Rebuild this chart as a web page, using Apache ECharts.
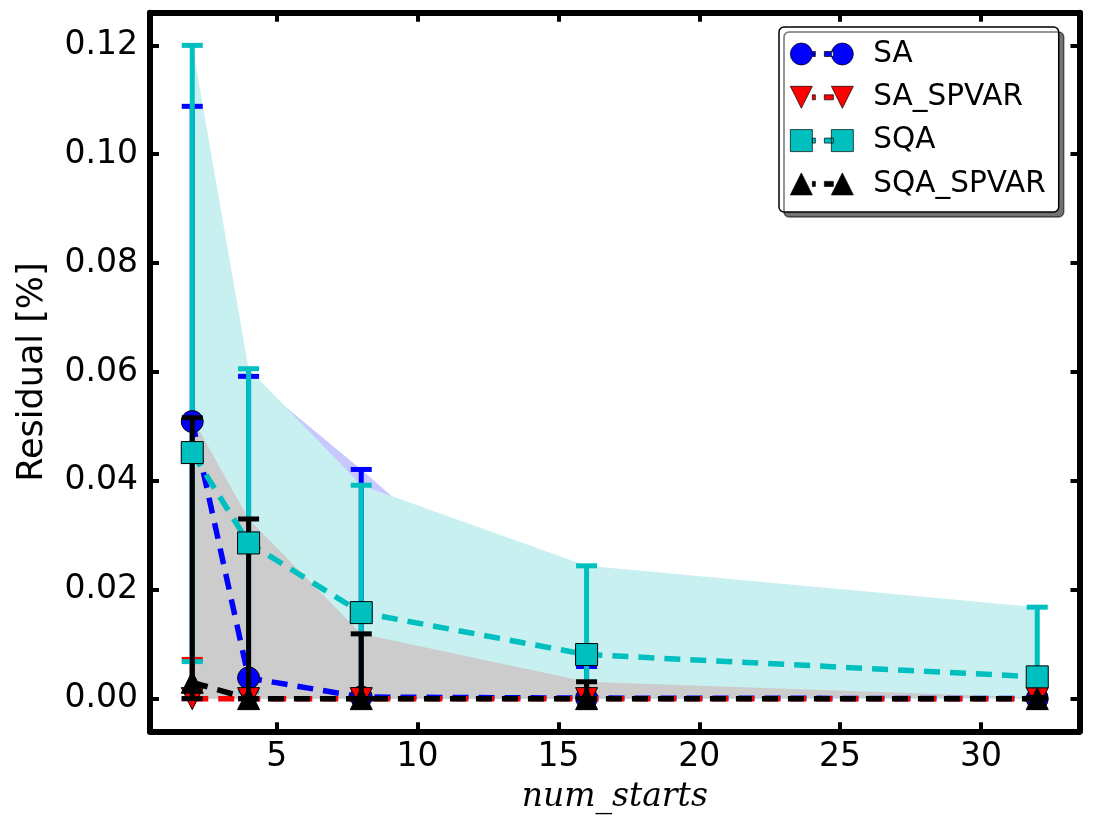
<!DOCTYPE html>
<html lang="en">
<head>
<meta charset="UTF-8">
<title>residual</title>
<script src="https://cdn.jsdelivr.net/npm/echarts@6.0.0/dist/echarts.min.js"></script>
</head>
<body style="margin:0;background:#fff">
<div id="main" style="width:1094px;height:836px;"></div>
<script>
// x values
var numStarts = [2, 4, 8, 16, 32];

// means
var saMean      = [0.0509, 0.0038, 0.0003, 0.0001, 0.0000];
var saSpvarMean = [0.0000, 0.0000, 0.0000, 0.0000, 0.0000];
var sqaMean     = [0.0452, 0.0286, 0.0158, 0.0081, 0.0040];
var sqaSpvarMean = [0.0030, 0.0000, 0.0000, 0.0000, 0.0000];

// error bar ends
var saLow       = [0.0000, 0.0000, 0.0000, 0.0000, 0.0000];
var saHigh      = [0.1088, 0.0592, 0.0421, 0.0059, 0.0005];
var saSpvarLow  = [0.0000, 0.0000, 0.0000, 0.0000, 0.0000];
var saSpvarHigh = [0.0072, 0.0000, 0.0000, 0.0000, 0.0000];
var sqaLow      = [0.0068, 0.0014, 0.0000, 0.0000, 0.0000];
var sqaHigh     = [0.1200, 0.0606, 0.0392, 0.0244, 0.0168];
var sqaSpvarLow  = [0.0000, 0.0000, 0.0000, 0.0000, 0.0000];
var sqaSpvarHigh = [0.0516, 0.0330, 0.0119, 0.0031, 0.0002];

// ticks
var xTicks = [5, 10, 15, 20, 25, 30];
var yTicks = [0, 0.02, 0.04, 0.06, 0.08, 0.10, 0.12];

function pairs(ys) {
    return numStarts.map(function (x, i) { return [x, ys[i]]; });
}

function fillArea(name, color, highs, z) {
    return {
        name: name, type: 'line', data: pairs(highs), z: z, silent: true,
        symbol: 'none',
        lineStyle: {width: 0}, areaStyle: {color: color, opacity: 1}
    };
}

function errorBars(name, color, lows, highs, z) {
    var data = numStarts.map(function (x, i) { return [x, lows[i], highs[i]]; });
    return {
        name: name, type: 'custom', data: data, z: z, silent: true,
        encode: {x: 0, y: [1, 2]},
        renderItem: function (params, api) {
            var x = api.value(0);
            var lo = api.coord([x, api.value(1)]);
            var hi = api.coord([x, api.value(2)]);
            var half = 10.5;
            var st = {stroke: color, lineWidth: 5};
            return {type: 'group', children: [
                {type: 'line', shape: {x1: lo[0], y1: lo[1], x2: hi[0], y2: hi[1]}, style: st},
                {type: 'line', shape: {x1: hi[0] - half, y1: hi[1], x2: hi[0] + half, y2: hi[1]}, style: st},
                {type: 'line', shape: {x1: lo[0] - half, y1: lo[1], x2: lo[0] + half, y2: lo[1]}, style: st}
            ]};
        }
    };
}

function meanLine(name, color, symbol, rotate, means, z) {
    return {
        name: name, type: 'line', data: pairs(means), z: z,
        symbol: symbol, symbolSize: 22, symbolRotate: rotate,
        itemStyle: {color: color, borderColor: '#000', borderWidth: 1},
        lineStyle: {color: color, width: 5.5, type: [16, 10]}
    };
}

// legend icons: marker, dash, dash, marker
var dash = 'M22,8.5h3v5h-3Z M34,8.5h9v5h-9Z ';
var iconCircle = 'path://M0,11a11,11 0 1,0 22,0a11,11 0 1,0 -22,0Z ' + dash + 'M41,11a11,11 0 1,0 22,0a11,11 0 1,0 -22,0Z';
var iconDown = 'path://M0,0L22,0L11,22Z ' + dash + 'M41,0L63,0L52,22Z';
var iconSquare = 'path://M0,0h22v22h-22Z ' + dash + 'M41,0h22v22h-22Z';
var iconUp = 'path://M11,0L22,22L0,22Z ' + dash + 'M52,0L63,22L41,22Z';

var xMin = 0.5, xMax = 33.5, yMin = -0.006, yMax = 0.126;

var frameLine = {onZero: false, lineStyle: {color: '#000', width: 6}};
var frameTick = {inside: true, length: 9, lineStyle: {color: '#000', width: 4}};

var chart = echarts.init(document.getElementById('main'));
var option = {
    animation: false,
    backgroundColor: '#fff',
    grid: {left: 150, right: 14.5, top: 12.7, bottom: 104.7},
    legend: {
        orient: 'vertical', left: 779, top: 27,
        padding: [12, 13, 13, 11], itemGap: 13.3,
        itemWidth: 63, itemHeight: 22,
        backgroundColor: '#fff', borderColor: '#000', borderWidth: 1.5, borderRadius: 5,
        shadowColor: 'rgba(0,0,0,0.55)', shadowOffsetX: 5, shadowOffsetY: 5, shadowBlur: 0,
        itemStyle: {borderWidth: 0.7},
        textStyle: {fontFamily: 'DejaVu Sans', fontSize: 29.5, color: '#000', lineHeight: 30, padding: [0, 0, 0, 15]},
        data: [
            {name: 'SA', icon: iconCircle},
            {name: 'SA_SPVAR', icon: iconDown},
            {name: 'SQA', icon: iconSquare},
            {name: 'SQA_SPVAR', icon: iconUp}
        ]
    },
    xAxis: [{
        type: 'value', min: xMin, max: xMax, position: 'bottom',
        axisLine: frameLine,
        axisTick: Object.assign({customValues: xTicks}, frameTick),
        axisLabel: {customValues: xTicks, fontFamily: 'DejaVu Sans', fontSize: 33, color: '#000', margin: 10},
        splitLine: {show: false},
        name: 'num_starts', nameLocation: 'middle', nameGap: 50,
        nameTextStyle: {fontFamily: 'DejaVu Serif', fontStyle: 'italic', fontSize: 33, color: '#000'}
    }, {
        type: 'value', min: xMin, max: xMax, position: 'top',
        axisLine: frameLine,
        axisTick: Object.assign({customValues: xTicks}, frameTick),
        axisLabel: {show: false}, splitLine: {show: false}
    }],
    yAxis: [{
        type: 'value', min: yMin, max: yMax, position: 'left',
        axisLine: frameLine,
        axisTick: Object.assign({customValues: yTicks}, frameTick),
        axisLabel: {
            customValues: yTicks, fontFamily: 'DejaVu Sans', fontSize: 33, color: '#000', margin: 12,
            formatter: function (v) { return v.toFixed(2); }
        },
        splitLine: {show: false},
        name: 'Residual [%]', nameLocation: 'middle', nameGap: 100, nameRotate: 90,
        nameTextStyle: {fontFamily: 'DejaVu Sans', fontSize: 35, color: '#000'}
    }, {
        type: 'value', min: yMin, max: yMax, position: 'right',
        axisLine: frameLine,
        axisTick: Object.assign({customValues: yTicks}, frameTick),
        axisLabel: {show: false}, splitLine: {show: false}
    }],
    series: [
        fillArea('SA band', '#c8c8ff', saHigh, 1),
        fillArea('SQA band', '#c9f0f0', sqaHigh, 1.1),
        fillArea('SQA_SPVAR band', '#cccccc', sqaSpvarHigh, 1.2),
        errorBars('SA err', '#0000ff', saLow, saHigh, 2),
        errorBars('SA_SPVAR err', '#ff0000', saSpvarLow, saSpvarHigh, 3),
        errorBars('SQA err', '#00bfbf', sqaLow, sqaHigh, 4),
        meanLine('SA', '#0000ff', 'circle', 0, saMean, 5),
        meanLine('SA_SPVAR', '#ff0000', 'triangle', 180, saSpvarMean, 6),
        errorBars('SQA_SPVAR err', '#000000', sqaSpvarLow, sqaSpvarHigh, 7),
        meanLine('SQA', '#00bfbf', 'rect', 0, sqaMean, 8),
        meanLine('SQA_SPVAR', '#000000', 'triangle', 0, sqaSpvarMean, 9)
    ]
};
chart.setOption(option);
</script>
</body>
</html>
